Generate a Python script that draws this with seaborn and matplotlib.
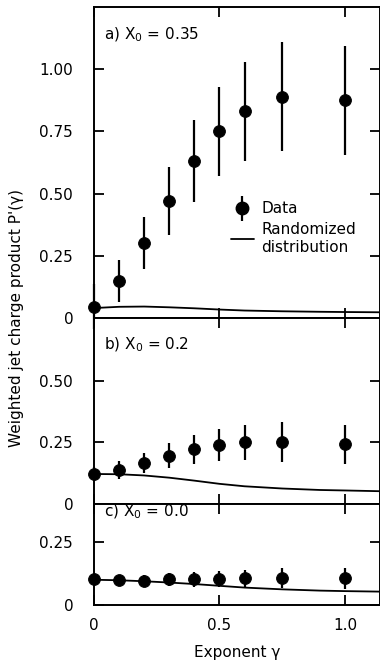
import numpy as np
import pandas as pd
import matplotlib
matplotlib.use("Agg")
import matplotlib.pyplot as plt
import seaborn as sns
from matplotlib.lines import Line2D

# exponent values where data was measured
gamma = [0.0, 0.1, 0.2, 0.3, 0.4, 0.5, 0.6, 0.75, 1.0]

# panel a) X0 = 0.35
data_a = [0.045, 0.15, 0.30, 0.47, 0.63, 0.75, 0.83, 0.89, 0.875]
err_a = [0.09, 0.085, 0.105, 0.135, 0.165, 0.18, 0.20, 0.22, 0.22]
# panel b) X0 = 0.2
data_b = [0.122, 0.138, 0.168, 0.197, 0.222, 0.240, 0.250, 0.252, 0.242]
err_b = [0.03, 0.035, 0.04, 0.05, 0.06, 0.065, 0.07, 0.08, 0.08]
# panel c) X0 = 0.0
data_c = [0.103, 0.100, 0.097, 0.102, 0.102, 0.103, 0.105, 0.106, 0.105]
err_c = [0.02, 0.02, 0.02, 0.025, 0.03, 0.03, 0.035, 0.04, 0.04]

# randomized distribution curves
rand_x = [0.0, 0.1, 0.2, 0.3, 0.4, 0.5, 0.6, 0.75, 0.9, 1.0, 1.14]
rand_a = [0.040, 0.045, 0.046, 0.043, 0.039, 0.034, 0.030, 0.027, 0.025, 0.024, 0.023]
rand_b = [0.122, 0.121, 0.116, 0.107, 0.095, 0.082, 0.072, 0.063, 0.057, 0.055, 0.052]
rand_c = [0.100, 0.098, 0.094, 0.089, 0.083, 0.076, 0.069, 0.062, 0.057, 0.055, 0.053]

panel_labels = ["a) X$_0$ = 0.35", "b) X$_0$ = 0.2", "c) X$_0$ = 0.0"]
ylims = [(0, 1.25), (0, 0.756), (0, 0.40)]
yticks = [[0, 0.25, 0.5, 0.75, 1.0], [0, 0.25, 0.5], [0, 0.25]]
yticklabels = [["0", "0.25", "0.50", "0.75", "1.00"], ["0", "0.25", "0.50"], ["0", "0.25"]]
label_y = [1.12, 0.63, 0.35]


def draw_panel(ax, data, err, rand, i):
    sns.lineplot(x=rand_x, y=rand, ax=ax, color="black", linewidth=1.3)
    ax.errorbar(gamma, data, yerr=err, fmt="none", ecolor="black",
                elinewidth=1.6, capsize=0, clip_on=False)
    sns.scatterplot(x=gamma, y=data, ax=ax, color="black", s=72,
                    edgecolor="black", zorder=3, clip_on=False)
    ax.set_xlim(0, 1.14)
    ax.set_ylim(*ylims[i])
    ax.set_yticks(yticks[i])
    ax.set_yticklabels(yticklabels[i])
    ax.set_xticks([0, 0.5, 1.0])
    ax.tick_params(direction="in", top=True, right=True, length=7,
                   width=1.3, labelsize=11, colors="black")
    ax.tick_params(axis="y", pad=15)
    ax.tick_params(axis="x", pad=9)
    ax.text(0.04, label_y[i], panel_labels[i], fontsize=11)
    for s in ax.spines.values():
        s.set_linewidth(1.4)
        s.set_color("black")


def main():
    sns.set_style("ticks")
    plt.rcParams["font.family"] = ["DejaVu Sans"]
    plt.rcParams["text.color"] = "black"
    plt.rcParams["axes.labelcolor"] = "black"
    fig = plt.figure(figsize=(3.8, 6.62), dpi=100)

    left = 94 / 380
    width = 1.0 - left
    ax_a = fig.add_axes([left, 1 - 318 / 662, width, 311 / 662])
    ax_b = fig.add_axes([left, 1 - 504 / 662, width, 186 / 662])
    ax_c = fig.add_axes([left, 1 - 605 / 662, width, 101 / 662])

    draw_panel(ax_a, data_a, err_a, rand_a, 0)
    draw_panel(ax_b, data_b, err_b, rand_b, 1)
    draw_panel(ax_c, data_c, err_c, rand_c, 2)

    for ax in (ax_a, ax_b):
        ax.tick_params(labelbottom=False)
    ax_c.set_xticklabels(["0", "0.5", "1.0"])
    ax_c.set_xlabel("Exponent γ", fontsize=11, labelpad=9)

    data_handle = (
        Line2D([0], [0], color="black", marker="|", markersize=18,
               markeredgewidth=1.6, linestyle="none"),
        Line2D([0], [0], color="black", marker="o", markersize=9,
               linestyle="none"),
    )
    rand_handle = Line2D([0], [0], color="black", linewidth=1.3)
    ax_a.legend([data_handle, rand_handle], ["Data", "Randomized\ndistribution"],
                loc="upper left", bbox_to_anchor=(0.43, 0.42),
                frameon=False, fontsize=11, handlelength=1.5,
                handletextpad=0.5, labelspacing=0.4)

    fig.text(17 / 380, 0.52, "Weighted jet charge product P'(γ)",
             rotation=90, va="center", ha="center", fontsize=11)

    fig.savefig("out.png", dpi=100)
    plt.close(fig)


if __name__ == "__main__":
    main()
